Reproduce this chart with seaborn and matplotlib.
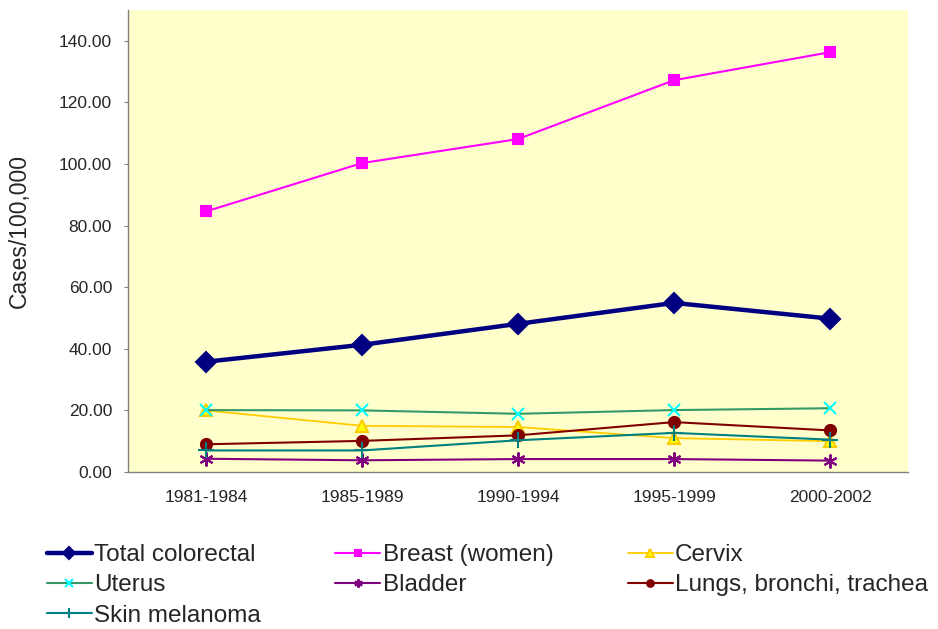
import numpy as np
import pandas as pd
import matplotlib
matplotlib.use('Agg')
import matplotlib.pyplot as plt
import seaborn as sns

periods = ["1981-1984", "1985-1989", "1990-1994", "1995-1999", "2000-2002"]

colorectal = [35.8, 41.3, 48.1, 54.9, 49.8]
breast = [84.6, 100.3, 108.1, 127.2, 136.3]
cervix = [20.0, 15.0, 14.6, 11.0, 10.0]
uterus = [20.1, 20.0, 18.9, 20.1, 20.7]
bladder = [4.3, 3.8, 4.2, 4.2, 3.7]
lungs = [9.0, 10.1, 11.9, 16.2, 13.5]
skin = [7.0, 7.0, 10.3, 12.7, 10.5]

series = {
    "Total colorectal": colorectal,
    "Breast (women)": breast,
    "Cervix": cervix,
    "Uterus": uterus,
    "Bladder": bladder,
    "Lungs, bronchi, trachea": lungs,
    "Skin melanoma": skin,
}

# line colour, marker, marker face, marker edge, marker size, line width
styles = {
    "Total colorectal": ("#000080", "D", "#000080", "#000080", 10, 3.2),
    "Breast (women)": ("#FF00FF", "s", "#FF00FF", "#FF00FF", 7, 1.5),
    "Cervix": ("#FFCC00", "^", "#FFFF00", "#FFCC00", 9, 1.3),
    "Uterus": ("#339966", "x", "#00FFFF", "#00FFFF", 9, 1.5),
    "Bladder": ("#800080", (6, 2, 0), "#800080", "#800080", 10, 1.5),
    "Lungs, bronchi, trachea": ("#800000", "o", "#800000", "#800000", 8, 1.5),
    "Skin melanoma": ("#008080", "+", "#008080", "#008080", 11, 1.5),
}

df = pd.DataFrame([
    {"period": p, "value": v, "site": name}
    for name, vals in series.items() for p, v in zip(periods, vals)
])

sns.set_style("white")
plt.rcParams["font.family"] = ["Liberation Sans", "DejaVu Sans"]

fig = plt.figure(figsize=(9.38, 6.29), dpi=100)
ax = fig.add_axes([128 / 938, 1 - 472 / 629, 780 / 938, 462 / 629])
ax.set_facecolor("#FFFFCC")

handles = {}
for name in series:
    c, m, fc, ec, ms, lw = styles[name]
    sns.lineplot(data=df[df["site"] == name], x="period", y="value", ax=ax,
                 color=c, marker=m, markersize=ms, markerfacecolor=fc,
                 markeredgecolor=ec, markeredgewidth=1.5, linewidth=lw,
                 label=name, legend=False)
    handles[name] = ax.lines[-1]

ax.set_xlim(-0.5, 4.5)
ax.set_ylim(0, 150)
ax.set_yticks(np.arange(0, 141, 20))
ax.set_yticklabels([f"{v:.2f}" for v in np.arange(0, 141, 20)], fontsize=12.5)
ax.set_xticks(range(len(periods)))
ax.set_xticklabels(periods, fontsize=12.5)
ax.set_xticks(np.arange(-0.5, 4.6, 1), minor=True)
ax.tick_params(axis="x", which="major", length=0, pad=13)
ax.tick_params(axis="x", which="minor", length=4, color="#808080", direction="out")
ax.tick_params(axis="y", length=3, color="#808080", direction="out", left=True, pad=8.5)
ax.set_xlabel("")
ax.set_ylabel("Cases/100,000", fontsize=16.5)
ax.yaxis.set_label_coords((31 - 128) / 780, (472 - 231) / 462)

for s in ["top", "right"]:
    ax.spines[s].set_visible(False)
for s in ["left", "bottom"]:
    ax.spines[s].set_color("#808080")
    ax.spines[s].set_linewidth(1)

order = ["Total colorectal", "Uterus", "Skin melanoma", "Breast (women)",
         "Bladder", "Cervix", "Lungs, bronchi, trachea"]
fig.legend([handles[n] for n in order], order, ncol=3, loc="upper left",
           bbox_to_anchor=(47 / 938, 1 - 544 / 629), frameon=False, fontsize=17.5,
           handlelength=1.85, handletextpad=0.1, columnspacing=3.05,
           labelspacing=0.34, markerscale=0.6, borderpad=0, borderaxespad=0)

plt.savefig("out.png", dpi=100)
plt.close()
